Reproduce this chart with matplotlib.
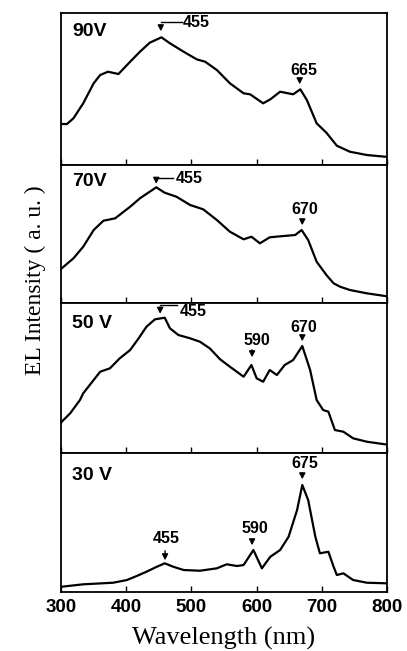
import matplotlib
matplotlib.use("Agg")
import matplotlib.pyplot as plt

# wavelength (nm) / intensity (a.u.)
wl_90 = [300, 301, 309, 319, 334, 350, 360, 372, 388, 406, 421, 436, 454, 467, 488, 508, 521,
         539, 559, 580, 590, 610, 621, 636, 656, 667, 677, 692, 707, 723, 743, 769, 797, 800]
in_90 = [41, 41, 41, 46.7, 61.7, 81.7, 90, 93.3, 91, 103.3, 113.3, 122.3, 127.7, 121.7, 113.3,
         105.7, 103.3, 95, 81.7, 71.7, 70.7, 61.7, 65.7, 73.3, 70.7, 75.7, 65, 41.7, 32.3, 19.3,
         13.3, 10, 8.3, 8.3]

wl_70 = [300, 301, 319, 334, 350, 365, 383, 406, 421, 436, 446, 459, 477, 498, 518, 539, 559,
         580, 592, 605, 620, 641, 659, 669, 679, 692, 707, 718, 728, 743, 769, 797, 800]
in_70 = [34, 34.7, 44.7, 56.3, 73, 82.3, 84.7, 96.3, 104.7, 111.3, 115.7, 110.3, 106.3, 98,
         93.7, 83, 71.3, 63.7, 66.3, 59.7, 65.7, 67, 68, 73, 63, 41.3, 28, 19.7, 16.3, 13, 9.7,
         7, 7]

wl_50 = [300, 301, 314, 329, 334, 350, 360, 375, 390, 406, 419, 431, 444, 459, 467, 480, 498,
         513, 528, 544, 559, 580, 592, 600, 610, 620, 631, 643, 656, 670, 682, 692, 702, 710,
         720, 733, 748, 769, 797, 800]
in_50 = [30, 31.3, 39.7, 53, 59.7, 73, 81.3, 84.7, 94.7, 103, 114.7, 126.3, 133.7, 135.3, 124.7,
         118, 114.7, 111.3, 104.7, 93.7, 86.3, 76.3, 88, 74.7, 71.3, 83, 78, 88, 93, 107, 83, 53,
         43, 41.3, 23, 21.3, 14.7, 11.3, 8.7, 8.7]

wl_30 = [300, 301, 334, 380, 401, 416, 431, 447, 459, 472, 488, 513, 539, 554, 570, 580, 595,
         608, 621, 636, 649, 662, 670, 679, 690, 697, 710, 718, 723, 733, 748, 769, 800]
in_30 = [5.3, 5.3, 7.7, 9.3, 12, 16, 20.3, 25.3, 28.7, 25.3, 22, 21.3, 23.7, 27.7, 26, 27, 42,
         23.7, 35.3, 42, 55.3, 82, 107, 92, 55.3, 38.7, 40.3, 25.3, 17, 18.7, 12, 9.3, 8.7]

voltages = ["90V", "70V", "50 V", "30 V"]
label_y = [133.5, 121.5, 129.5, 116.5]
xticks = [300, 400, 500, 600, 700, 800]

plt.rcParams['font.family'] = ['Liberation Sans', 'DejaVu Sans']

fig = plt.figure(figsize=(4.07, 6.51), dpi=100)
heights = [152, 138, 150, 139]
gs = fig.add_gridspec(4, 1, height_ratios=heights, hspace=0,
                      left=0.150, right=0.951, top=0.980, bottom=0.0906)
axes = [fig.add_subplot(gs[i]) for i in range(4)]
curves = [(wl_90, in_90), (wl_70, in_70), (wl_50, in_50), (wl_30, in_30)]

for ax, (wl, inten), h, lab, ly in zip(axes, curves, heights, voltages, label_y):
    ax.plot(wl, inten, color='black', lw=1.6)
    ax.set_xlim(300, 800)
    ax.set_ylim(0, h)
    ax.set_yticks([])
    ax.set_xticks(xticks)
    ax.tick_params(axis='x', direction='in', length=4, width=1, top=False)
    for s in ax.spines.values():
        s.set_linewidth(1.3)
    ax.text(317, ly, lab, fontsize=14, fontweight='bold', va='center', ha='left')

for ax in axes[:-1]:
    ax.tick_params(axis='x', labelbottom=False)
axes[-1].tick_params(axis='x', labelsize=13.5, pad=5)
for t in axes[-1].get_xticklabels():
    t.set_fontweight('bold')

akw = dict(arrowstyle='-|>,head_length=0.35,head_width=0.18', color='black', lw=1)
tkw = dict(fontsize=11.5, fontweight='bold', ha='center', va='center')

def mark(ax, label, tx, ty, ax_x, y0, y1):
    ax.text(tx, ty, label, **tkw)
    ax.annotate('', xy=(ax_x, y1), xytext=(ax_x, y0), arrowprops=akw)

def lmark(ax, label, tx, ty, ax_x, xend, y0, y1):
    ax.text(tx, ty, label, **tkw)
    ax.plot([ax_x, xend], [y0, y0], color='black', lw=1)
    ax.annotate('', xy=(ax_x, y1), xytext=(ax_x, y0), arrowprops=akw)

# 90 V
lmark(axes[0], "455", 507, 142.5, 453, 485, 142.7, 131)
mark(axes[0], "665", 672, 95, 666, 88, 78)
# 70 V
lmark(axes[1], "455", 496, 125, 446, 472, 125.3, 116.5)
mark(axes[1], "670", 674, 94, 670, 86.3, 75)
# 50 V
lmark(axes[2], "455", 502, 141.5, 452, 478, 148.5, 136.5)
mark(axes[2], "590", 600, 113, 593, 106, 93)
mark(axes[2], "670", 672, 126, 670, 119, 109)
# 30 V
mark(axes[3], "675", 673.5, 129, 670, 120, 110)
mark(axes[3], "590", 597, 64, 593, 54, 44)
mark(axes[3], "455", 461, 54, 459.5, 44, 29)

fig.text(0.5 * (0.150 + 0.951), 1 - 638 / 651, "Wavelength (nm)", ha='center', va='center',
         fontsize=19, family=['Liberation Serif', 'DejaVu Serif'])
fig.text(35 / 407, 1 - 280 / 651, "EL Intensity ( a. u. )", ha='center', va='center',
         rotation=90, fontsize=17, family=['Liberation Serif', 'DejaVu Serif'])

fig.savefig("out.png", dpi=100)
